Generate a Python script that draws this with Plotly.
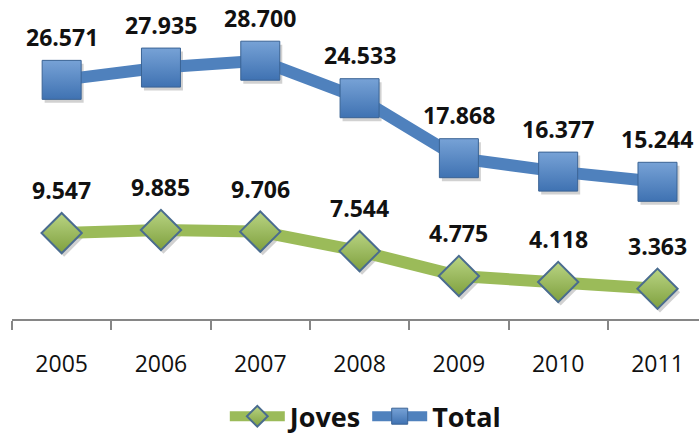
import plotly.graph_objects as go

# Annual series (thousands), Catalan number format
years = ["2005", "2006", "2007", "2008", "2009", "2010", "2011"]
joves = [9.547, 9.885, 9.706, 7.544, 4.775, 4.118, 3.363]
total = [26.571, 27.935, 28.700, 24.533, 17.868, 16.377, 15.244]


def fmt(v):
    return f"{v:.3f}"


blue = "#4F81BD"
green = "#9BBB59"

X_RANGE = [-0.5, 6.418]
Y_RANGE = [0, 35]
# soft drop shadow offset, in pixels (right, down)
SH_DX, SH_DY = 2.5, 3.5
PX_PER_X = 687 / (X_RANGE[1] - X_RANGE[0])
PX_PER_Y = 315 / (Y_RANGE[1] - Y_RANGE[0])

fig = go.Figure()

# Shadows on a hidden, slightly shifted pair of axes (drawn underneath)
for series, sym, size in ((joves, "diamond", 31), (total, "square", 39)):
    fig.add_trace(go.Scatter(
        x=years, y=series, mode="markers", showlegend=False, hoverinfo="skip",
        marker=dict(symbol=sym, size=size, color="rgba(0,0,0,0.18)", line=dict(width=0)),
        xaxis="x", yaxis="y",
    ))

fig.add_trace(go.Scatter(
    x=years, y=joves, name="Joves", mode="lines+markers",
    line=dict(color=green, width=12),
    marker=dict(symbol="diamond", size=31, color="#B9D483",
                gradient=dict(type="vertical", color="#7FA03E"),
                line=dict(color="#4A6C8F", width=2)),
    xaxis="x2", yaxis="y2",
))
fig.add_trace(go.Scatter(
    x=years, y=total, name="Total", mode="lines+markers",
    line=dict(color=blue, width=12),
    marker=dict(symbol="square", size=39, color="#77A2D6",
                gradient=dict(type="vertical", color="#3F72B2"),
                line=dict(color="#3A6394", width=1)),
    xaxis="x2", yaxis="y2",
))

# Value labels above each point (x given as category index)
annotations = []
for series in (joves, total):
    for i, v in enumerate(series):
        annotations.append(dict(
            x=i, y=v, xref="x2", yref="y2", text=fmt(v), showarrow=False, yshift=43,
            font=dict(family="Open Sans", size=23, color="#111111", weight="bold"),
            xanchor="center", yanchor="middle",
        ))

fig.update_layout(
    width=699, height=434,
    margin=dict(l=12, r=0, t=4, b=115, autoexpand=False),
    paper_bgcolor="white", plot_bgcolor="white",
    showlegend=True,
    legend=dict(orientation="h", x=0.515, xanchor="center", y=-0.31, yanchor="middle",
                font=dict(family="Open Sans", size=27, color="#111111", weight="bold"),
                itemwidth=55, traceorder="normal"),
    annotations=annotations,
    xaxis=dict(type="category", visible=False, showgrid=False,
               range=[X_RANGE[0] - SH_DX / PX_PER_X, X_RANGE[1] - SH_DX / PX_PER_X]),
    yaxis=dict(visible=False, showgrid=False,
               range=[Y_RANGE[0] + SH_DY / PX_PER_Y, Y_RANGE[1] + SH_DY / PX_PER_Y]),
    xaxis2=dict(type="category", overlaying="x", anchor="y2", range=X_RANGE, showgrid=False,
                showline=True, linecolor="#868686", linewidth=1.5,
                ticks="outside", tickson="boundaries", ticklen=9,
                tickcolor="#868686", tickwidth=1.5,
                ticklabelstandoff=24,
                tickfont=dict(family="Open Sans", size=23, color="#111111")),
    yaxis2=dict(overlaying="y", anchor="x2", range=Y_RANGE, visible=False, showgrid=False),
)

fig.write_html("out.html")
